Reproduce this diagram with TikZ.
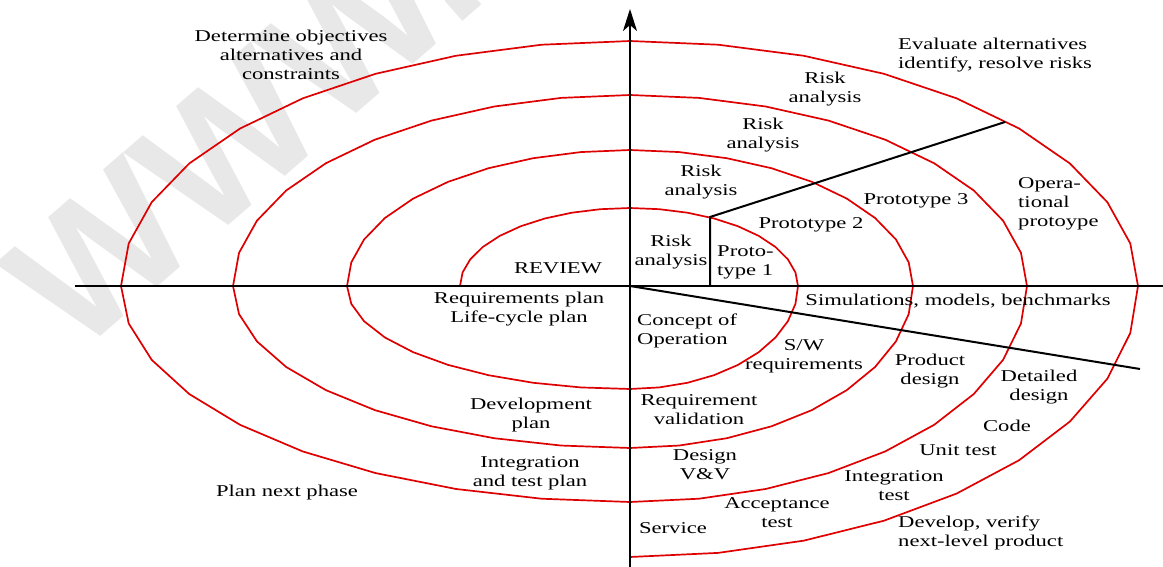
\documentclass[tikz,border=0pt]{standalone}
\usepackage{fontspec}
\setmainfont{Liberation Serif}[FakeStretch=1.37]
\newfontfamily\wmfont{Liberation Sans}
\usetikzlibrary{arrows.meta}
\definecolor{spiralred}{RGB}{222,0,0}
\definecolor{wmgray}{RGB}{232,232,232}

\begin{document}
\begin{tikzpicture}[x=1pt,y=-1pt,
  lbl/.style={inner sep=0pt, align=center, font=\fontsize{16.5}{19}\selectfont},
  lbll/.style={lbl, align=left},
  axisline/.style={line width=2pt, black},
  spiral/.style={line width=1.7pt, spiralred, line join=round, line cap=round},
  arc/.style={variable=\t, samples=10},
]
\useasboundingbox (0,0) rectangle (1163,567);

% background watermark
\begin{scope}
\clip (0,0) rectangle (1163,567);
\node[rotate=41, anchor=base west, inner sep=0pt, text=wmgray,
      font=\wmfont\bfseries\fontsize{180}{180}\selectfont] (wm) at (76,358) {WWW.};
\end{scope}

% key points
\coordinate (o) at (630,286);
\coordinate (ytop) at (630,9);
\coordinate (ybot) at (630,567);
\coordinate (xwest) at (75,286);
\coordinate (xeast) at (1163,286);
\coordinate (cut) at (1140,369);
\coordinate (pa) at (710,286);
\coordinate (pb) at (710,217);
\coordinate (pc) at (1005,122);

% spiral, one quarter ellipse per quadrant
\draw[spiral]
  plot[arc, domain=180:90] ({630+170*cos(\t)},{286-78*sin(\t)})
  -- plot[arc, domain=90:0] ({630+168*cos(\t)},{286-78*sin(\t)})
  -- plot[arc, domain=0:-90] ({630+168*cos(\t)},{286-103*sin(\t)})
  -- plot[arc, domain=-90:-180] ({630+283*cos(\t)},{286-103*sin(\t)})
  -- plot[arc, domain=180:90] ({630+283*cos(\t)},{286-136*sin(\t)})
  -- plot[arc, domain=90:0] ({630+283*cos(\t)},{286-136*sin(\t)})
  -- plot[arc, domain=0:-90] ({630+283*cos(\t)},{286-162*sin(\t)})
  -- plot[arc, domain=-90:-180] ({630+397*cos(\t)},{286-162*sin(\t)})
  -- plot[arc, domain=180:90] ({630+397*cos(\t)},{286-191*sin(\t)})
  -- plot[arc, domain=90:0] ({630+397*cos(\t)},{286-191*sin(\t)})
  -- plot[arc, domain=0:-90] ({630+397*cos(\t)},{286-216*sin(\t)})
  -- plot[arc, domain=-90:-180] ({630+509*cos(\t)},{286-216*sin(\t)})
  -- plot[arc, domain=180:90] ({630+509*cos(\t)},{286-245*sin(\t)})
  -- plot[arc, domain=90:0] ({630+508*cos(\t)},{286-245*sin(\t)})
  -- plot[arc, domain=0:-90] ({630+508*cos(\t)},{286-271*sin(\t)});

% axes and dividing lines
\draw[axisline] (xwest) -- (xeast);
\draw[axisline, -{Stealth[length=22pt,width=14pt,inset=6pt]}] (ybot) -- (ytop);
\draw[axisline] (o) -- (cut);
\draw[axisline] (pa) -- (pb) -- (pc);

% quadrant titles
\node[lbl] (detobj) at (291,55) {Determine objectives\\alternatives and\\constraints};
\node[lbll, anchor=west] (evalalt) at (898,55) {Evaluate alternatives\\identify, resolve risks};
\node[lbl] (plannext) at (287,493) {Plan next phase};
\node[lbll, anchor=west] (develop) at (898,533) {Develop, verify\\next-level product};

% upper right quadrant
\node[lbl] (risk4) at (825,89) {Risk\\analysis};
\node[lbl] (risk3) at (763,135) {Risk\\analysis};
\node[lbl] (risk2) at (701,182) {Risk\\analysis};
\node[lbl] (risk1) at (671,252) {Risk\\analysis};
\node[lbll, anchor=west] (proto1) at (717,262) {Proto-\\type 1};
\node[lbl] (proto2) at (811,225) {Prototype 2};
\node[lbl] (proto3) at (916,201) {Prototype 3};
\node[lbll, anchor=west] (opproto) at (1018,204) {Opera-\\tional\\protoype};

% upper left quadrant
\node[lbl] (review) at (558,268) {REVIEW};

% lower left quadrant
\node[lbl] (reqplan) at (519,309) {Requirements plan\\Life-cycle plan};
\node[lbl] (devplan) at (531,415) {Development\\plan};
\node[lbl] (itplan) at (530,473) {Integration\\and test plan};

% lower right quadrant
\node[lbl] (sim) at (958,301) {Simulations, models, benchmarks};
\node[lbll, anchor=west] (concept) at (637,331) {Concept of\\Operation};
\node[lbl] (swreq) at (804,356) {S/W\\requirements};
\node[lbl] (proddes) at (930,371) {Product\\design};
\node[lbl] (detdes) at (1039,387) {Detailed\\design};
\node[lbl] (code) at (1007,426) {Code};
\node[lbl] (unittest) at (958,450) {Unit test};
\node[lbl] (inttest) at (894,486) {Integration\\test};
\node[lbl] (reqval) at (699,410) {Requirement\\validation};
\node[lbl] (desvv) at (705,465) {Design\\V\&V};
\node[lbl] (acctest) at (777,513) {Acceptance\\test};
\node[lbl] (service) at (673,528) {Service};
\end{tikzpicture}
\end{document}
